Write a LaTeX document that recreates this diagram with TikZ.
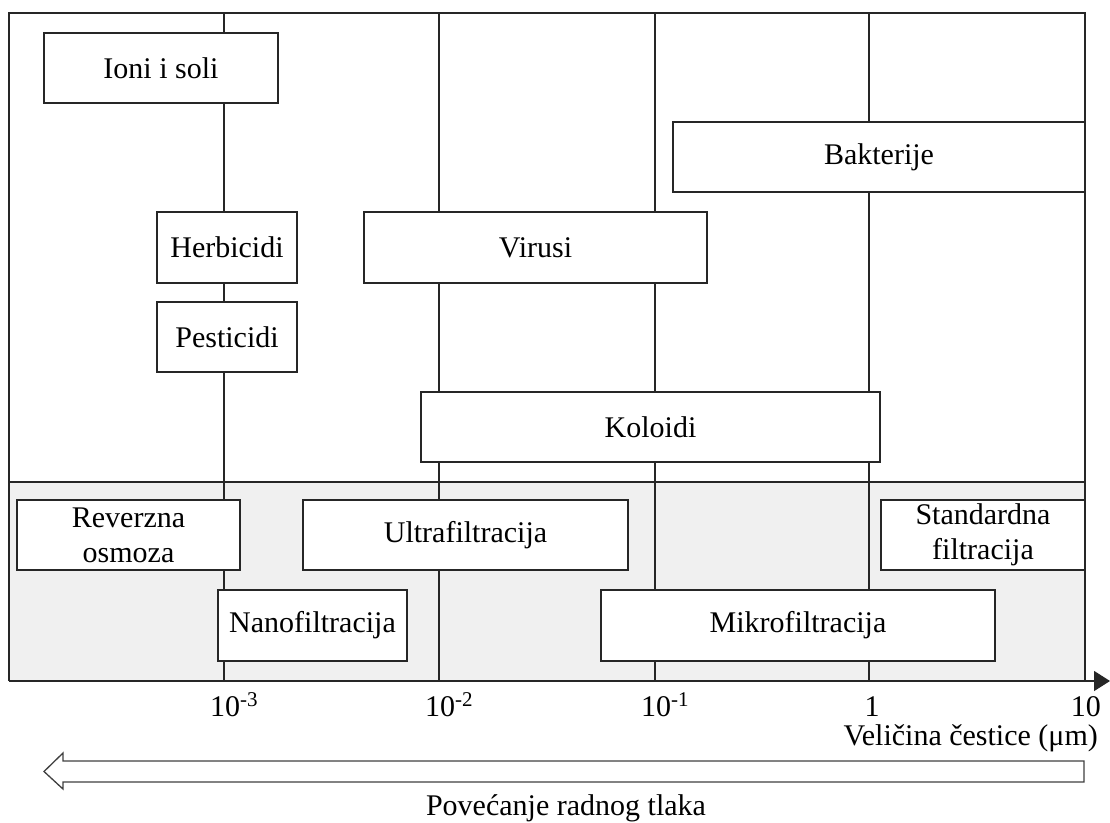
\documentclass[tikz,border=0pt]{standalone}
\usepackage{fontspec}
\setmainfont{Liberation Serif}
\usetikzlibrary{arrows.meta}
\definecolor{bandgray}{HTML}{F0F0F0}
\tikzset{
  lbl/.style={draw=black!85, line width=1.3pt, fill=white, inner sep=0pt, align=center,
              font=\fontsize{30}{35}\selectfont},
  grid/.style={line width=1.3pt, draw=black!85},
  tick/.style={font=\fontsize{30}{34}\selectfont, inner sep=0pt},
}
\begin{document}
\begin{tikzpicture}[x=1pt,y=-1pt]
\useasboundingbox (0,0) rectangle (1110,822);
% gray band
\fill[bandgray] (9,482) rectangle (1085,681);
% vertical grid lines
\foreach \xx in {224,439,655,869} \draw[grid] (\xx,13) -- (\xx,681);
\draw[grid] (9,482) -- (1085,482);
% boxes
\node[lbl, minimum width=234pt, minimum height=70pt] (ioni) at (161,68) {Ioni i soli};
\node[lbl, minimum width=412pt, minimum height=70pt] (bakt) at (879,157) {Bakterije};
\node[lbl, minimum width=140pt, minimum height=71pt] (herb) at (227,247.5) {Herbicidi};
\node[lbl, minimum width=343pt, minimum height=71pt] (vir) at (535.5,247.5) {Virusi};
\node[lbl, minimum width=140pt, minimum height=70pt] (pest) at (227,337) {Pesticidi};
\node[lbl, minimum width=459pt, minimum height=70pt] (kol) at (650.5,427) {Koloidi};
\node[lbl, minimum width=223pt, minimum height=70pt] (ro) at (128.5,535) {Reverzna\\osmoza};
\node[lbl, minimum width=325pt, minimum height=70pt] (uf) at (465.5,535) {Ultrafiltracija};
\node[lbl, minimum width=204pt, minimum height=70pt] (sf) at (983,535) {Standardna\\filtracija};
\node[lbl, minimum width=189pt, minimum height=71pt] (nf) at (312.5,625.5) {Nanofiltracija};
\node[lbl, minimum width=394pt, minimum height=71pt] (mf) at (798,625.5) {Mikrofiltracija};
% frame
\draw[grid] (9,681) -- (9,13) -- (1085,13) -- (1085,681);
% axis
\coordinate (ax0) at (9,681);
\coordinate (ax1) at (1110,681);
\draw[grid, -{Triangle[length=16pt,width=20pt]}] (ax0) -- (ax1);
% tick labels
\node[tick, anchor=base west] (t3) at (210,716) {10\textsuperscript{-3}};
\node[tick, anchor=base west] (t2) at (425,716) {10\textsuperscript{-2}};
\node[tick, anchor=base west] (t1) at (641,716) {10\textsuperscript{-1}};
\node[tick, anchor=base] (t0) at (872,716) {1};
\node[tick, anchor=base east] (t10) at (1101,716) {10};
\node[tick, anchor=base east] (xl) at (1098,745) {Veličina čestice (μm)};
% hollow arrow
\draw[line width=1.3pt, draw=black!75, fill=white]
  (1084,761) -- (63,761) -- (63,753) -- (44,771.5) -- (63,789) -- (63,782) -- (1084,782) -- cycle;
\node[tick, anchor=base] (pl) at (566,815) {Povećanje radnog tlaka};
\end{tikzpicture}
\end{document}
